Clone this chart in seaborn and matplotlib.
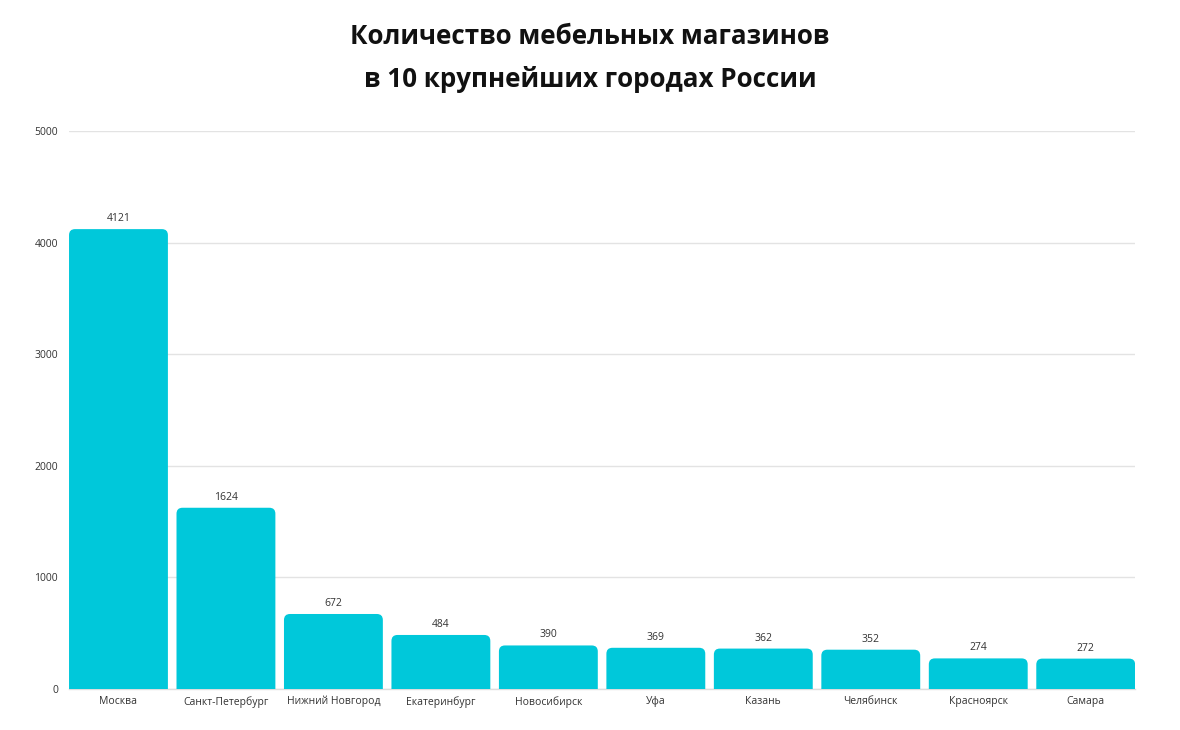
import matplotlib
matplotlib.use("Agg")
import matplotlib.pyplot as plt
import seaborn as sns
import pandas as pd
from matplotlib.patches import FancyBboxPatch

cities = ["Москва", "Санкт-Петербург", "Нижний Новгород", "Екатеринбург", "Новосибирск",
          "Уфа", "Казань", "Челябинск", "Красноярск", "Самара"]
stores = [4121, 1624, 672, 484, 390, 369, 362, 352, 274, 272]
y_ticks = [0, 1000, 2000, 3000, 4000, 5000]
title = "Количество мебельных магазинов\nв 10 крупнейших городах России"

sns.set_theme(style="white")
plt.rcParams['font.family'] = ['Open Sans', 'DejaVu Sans']

df = pd.DataFrame({"city": cities, "stores": stores})

fig = plt.figure(figsize=(11.8, 7.3), dpi=100)
ax = fig.add_axes([0.0585, 0.0562, 0.9035, 0.7643])

bar_color = "#00C8DA"
sns.barplot(data=df, x="city", y="stores", color=bar_color, width=0.92,
            saturation=1, ax=ax, zorder=3)

ax.set_xlim(-0.46, 9.46)
ax.set_ylim(0, 5000)
ax.set_yticks(y_ticks)
ax.set_yticklabels([str(t) for t in y_ticks], fontsize=7.5, color="#333333")
ax.tick_params(axis="x", labelsize=7.5, colors="#333333", length=0, pad=5)
ax.tick_params(axis="y", length=0, pad=8)
ax.set_xlabel("")
ax.set_ylabel("")
ax.grid(axis="y", color="#e3e3e3", linewidth=1, zorder=0)
for s in ["left", "right", "top"]:
    ax.spines[s].set_visible(False)
ax.spines["bottom"].set_color("#dddddd")
ax.spines["bottom"].set_linewidth(1)

# rounded top corners
fig.canvas.draw()
bbox = ax.get_window_extent()
x_per_px = (ax.get_xlim()[1] - ax.get_xlim()[0]) / bbox.width
y_per_px = (ax.get_ylim()[1] - ax.get_ylim()[0]) / bbox.height
aspect = y_per_px / x_per_px
r = 6 * x_per_px
for p in list(ax.patches):
    x0, w, h = p.get_x(), p.get_width(), p.get_height()
    p.set_visible(False)
    extra = 10 * y_per_px
    fb = FancyBboxPatch((x0, -extra), w, h + extra,
                        boxstyle=f"round,pad=0,rounding_size={r}",
                        mutation_aspect=aspect, facecolor=bar_color,
                        edgecolor="none", zorder=3, clip_on=True)
    ax.add_patch(fb)
    ax.text(x0 + w / 2, h + 45, str(int(h)), ha="center", va="bottom",
            fontsize=7.5, color="#333333", zorder=4)

fig.text(0.5, 0.968, title, ha="center", va="top", fontsize=18.7,
         fontweight="bold", color="#111111", linespacing=1.75)

fig.savefig("out.png", dpi=100, facecolor="white")
